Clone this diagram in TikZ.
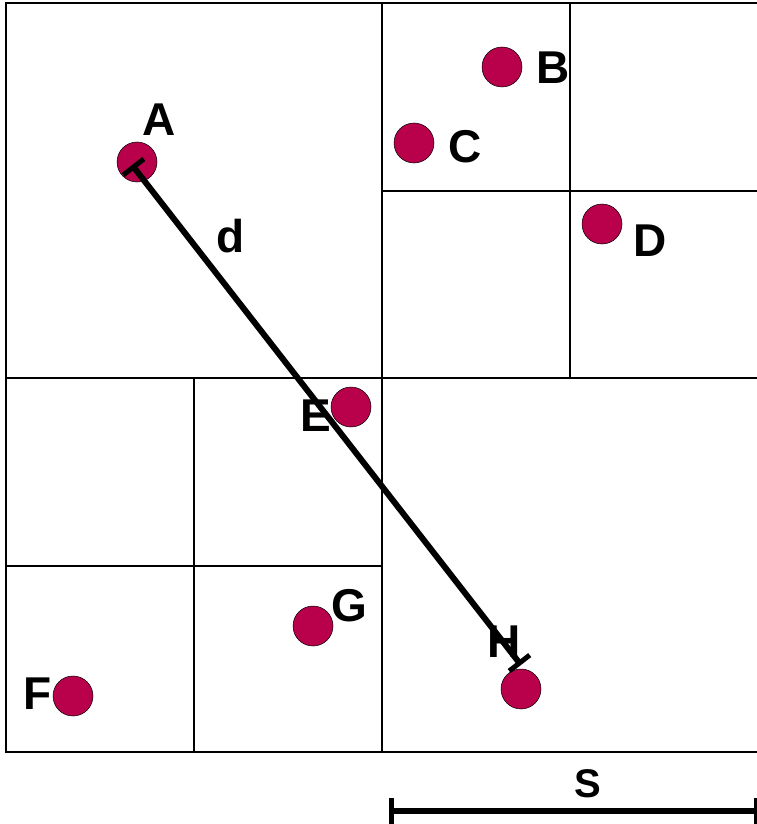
\documentclass[tikz,border=0pt]{standalone}
\usepackage{fontspec}
\setmainfont{Liberation Sans}
\usetikzlibrary{arrows.meta,calc}
\definecolor{bg}{HTML}{FFFFFF}
\definecolor{grid}{HTML}{000000}
\definecolor{point}{HTML}{B8004B}
\begin{document}
\begin{tikzpicture}[x=1pt,y=-1pt,line cap=butt,
  cell/.style={grid,line width=1.6pt},
  pointdot/.style={circle,fill=point,draw=black,line width=0.5pt,minimum size=40pt,inner sep=0pt},
  ptlabel/.style={font=\fontsize{46}{46}\selectfont\bfseries,inner sep=0pt},
  measure/.style={{Bar[width=26pt,line width=5pt]}-{Bar[width=26pt,line width=5pt]},line width=6pt}]
  \useasboundingbox (0,0) rectangle (756,824);
  \fill[bg] (0,0) rectangle (756,824);

  % ---- quadtree cells ----
  \draw[cell] (6,3) rectangle (760,752);
  \draw[cell] (382,3) -- (382,752);
  \draw[cell] (6,378) -- (760,378);
  % top right quadrant split
  \draw[cell] (570,3) -- (570,378);
  \draw[cell] (382,191) -- (760,191);
  % bottom left quadrant split
  \draw[cell] (194,378) -- (194,752);
  \draw[cell] (6,566) -- (382,566);

  % ---- points ----
  \node[pointdot] (A) at (137,162) {};
  \node[pointdot] (B) at (502,67) {};
  \node[pointdot] (C) at (414,143) {};
  \node[pointdot] (D) at (602,224) {};
  \node[pointdot] (E) at (351,407) {};
  \node[pointdot] (F) at (73,696) {};
  \node[pointdot] (G) at (313,626) {};
  \node[pointdot] (H) at (521,689) {};

  % labels
  \node[ptlabel] (labA) at (159,120) {A};
  \node[ptlabel] (labB) at (553,68) {B};
  \node[ptlabel] (labC) at (465,147) {C};
  \node[ptlabel] (labD) at (650,241) {D};
  \node[ptlabel] (labE) at (316,416) {E};
  \node[ptlabel] (labF) at (38,694) {F};
  \node[ptlabel] (labG) at (349,606) {G};
  \node[ptlabel] (labH) at (504,642) {H};

  % ---- distance d between A and H ----
  \coordinate (dA) at ($(A.center)+(-5,3)$);
  \coordinate (dH) at ($(H.center)+(0,-24)$);
  \draw[measure] (dA) -- (dH);
  \node[ptlabel] (labd) at (231,236) {d};

  % ---- scale bar S ----
  \coordinate (s0) at (389,811);
  \coordinate (s1) at (759,811);
  \draw[measure] (s0) -- (s1);
  \node[ptlabel,font=\fontsize{40}{40}\selectfont\bfseries] (labs) at (588,784) {S};
\end{tikzpicture}
\end{document}
